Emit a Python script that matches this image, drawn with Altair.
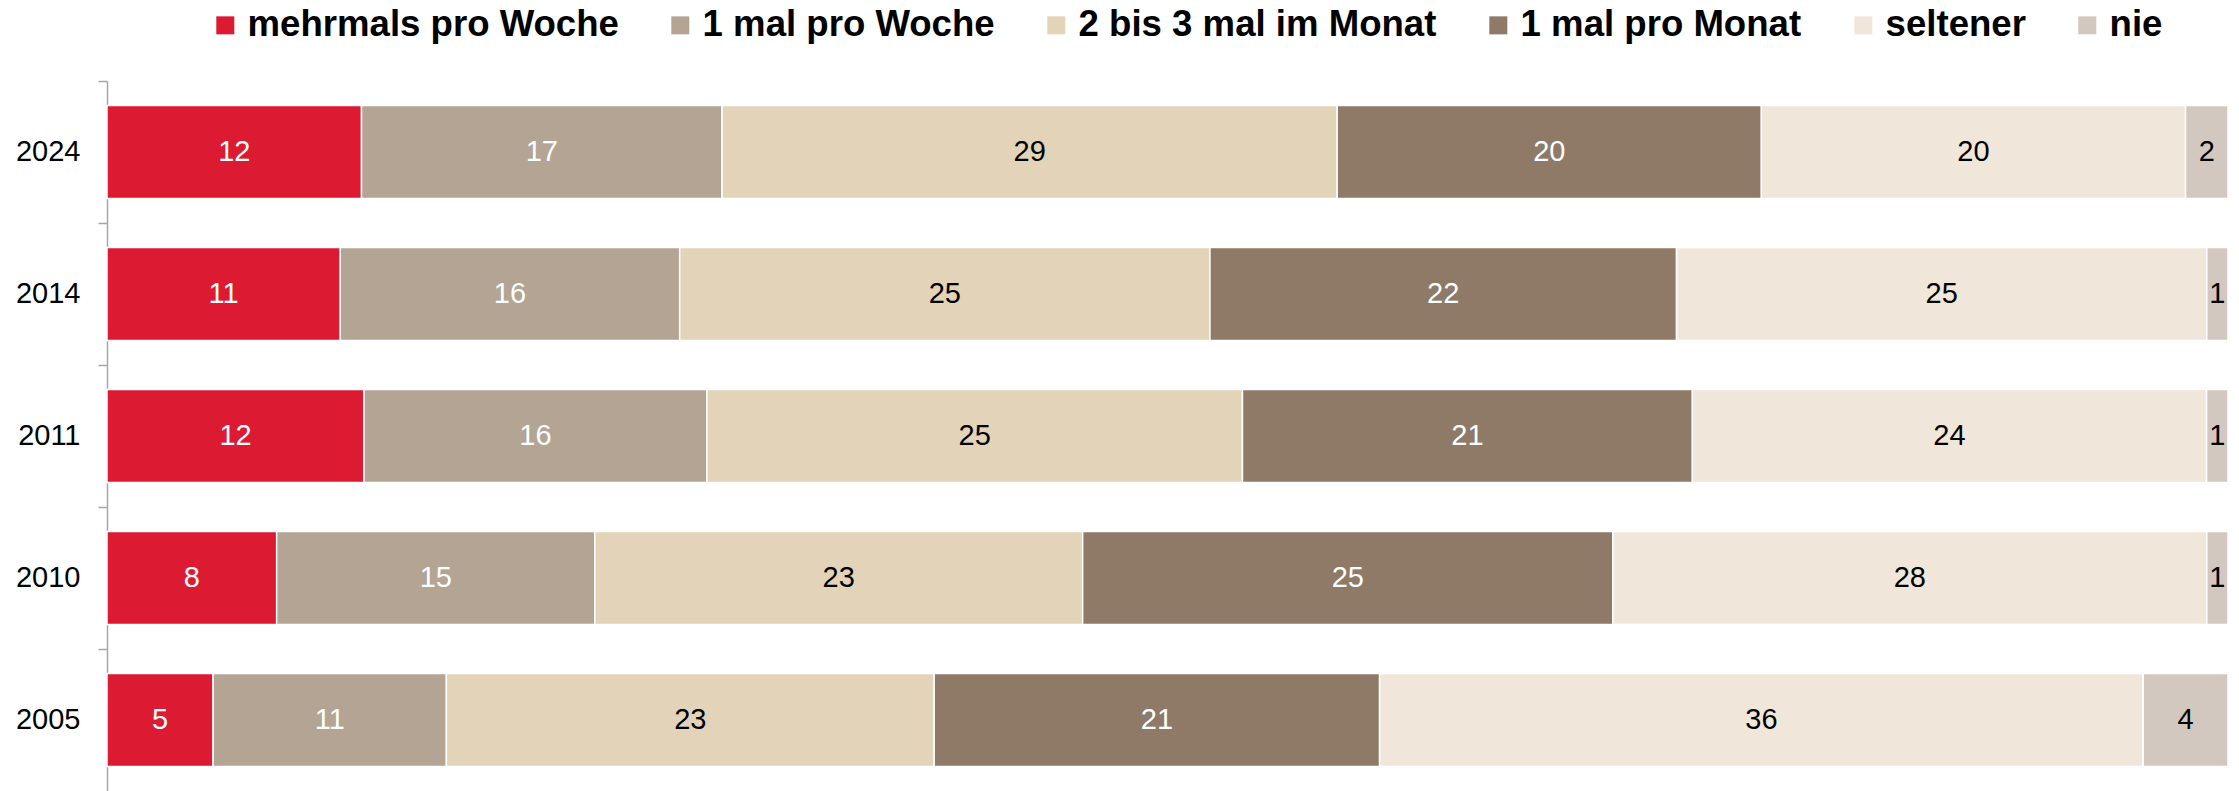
import altair as alt
import pandas as pd

years = ["2024", "2014", "2011", "2010", "2005"]
categories = ["mehrmals pro Woche", "1 mal pro Woche", "2 bis 3 mal im Monat",
              "1 mal pro Monat", "seltener", "nie"]
colors = ["#DC1A32", "#B3A494", "#E3D3B8", "#8E7A67", "#F0E7DA", "#D2C8BF"]
label_colors = ["white", "white", "black", "white", "black", "black"]

v2024 = [12, 17, 29, 20, 20, 2]
v2014 = [11, 16, 25, 22, 25, 1]
v2011 = [12, 16, 25, 21, 24, 1]
v2010 = [8, 15, 23, 25, 28, 1]
v2005 = [5, 11, 23, 21, 36, 4]
series = {"2024": v2024, "2014": v2014, "2011": v2011, "2010": v2010, "2005": v2005}

rows = []
for y in years:
    for i, c in enumerate(categories):
        rows.append({"year": y, "cat": c, "order": i, "value": series[y][i],
                     "labelColor": label_colors[i]})
df = pd.DataFrame(rows)

FONT = "Liberation Sans"

y_enc = alt.Y(
    "year:N", sort=years,
    scale=alt.Scale(paddingInner=0, paddingOuter=0),
    axis=alt.Axis(title=None, bandPosition=0, tickSize=9, labelPadding=18,
                  labelFontSize=29, labelFont=FONT, labelColor="black",
                  domainColor="#A6A6A6", tickColor="#A6A6A6",
                  domainWidth=1.5, tickWidth=1.5, grid=False),
)

base = alt.Chart(df).transform_stack(
    stack="value", as_=["x0", "x1"], groupby=["year"],
    sort=[alt.SortField("order", order="ascending")], offset="normalize",
).transform_calculate(mid="(datum.x0 + datum.x1) / 2")

bars = base.mark_bar(size=93, stroke="white", strokeWidth=1.5).encode(
    y=y_enc,
    x=alt.X("x0:Q", scale=alt.Scale(domain=[0, 1], nice=False), axis=None),
    x2="x1:Q",
    color=alt.Color(
        "cat:N", sort=categories,
        scale=alt.Scale(domain=categories, range=colors),
        legend=alt.Legend(
            title=None, orient="none", legendX=100, legendY=-74,
            direction="horizontal", columns=6, symbolType="square",
            symbolSize=324, symbolStrokeWidth=0, labelFont=FONT,
            labelFontSize=36.6, labelFontWeight="bold", labelColor="black",
            labelOffset=4, columnPadding=43, padding=0, labelLimit=0,
        ),
    ),
)

text = base.mark_text(fontSize=29, font=FONT, baseline="middle", align="center").encode(
    y=y_enc,
    x=alt.X("mid:Q", scale=alt.Scale(domain=[0, 1], nice=False), axis=None),
    text=alt.Text("value:Q"),
    color=alt.condition("datum.labelColor == 'white'", alt.value("white"), alt.value("black")),
)

chart = alt.layer(bars, text).properties(
    width=2121, height=710,
    autosize=alt.AutoSizeParams(type="none"),
    padding={"left": 107, "top": 81, "right": 11, "bottom": 0},
    background="white",
).configure_view(stroke=None)

chart.save("out.html", embed_options={"renderer": "svg", "actions": False})
